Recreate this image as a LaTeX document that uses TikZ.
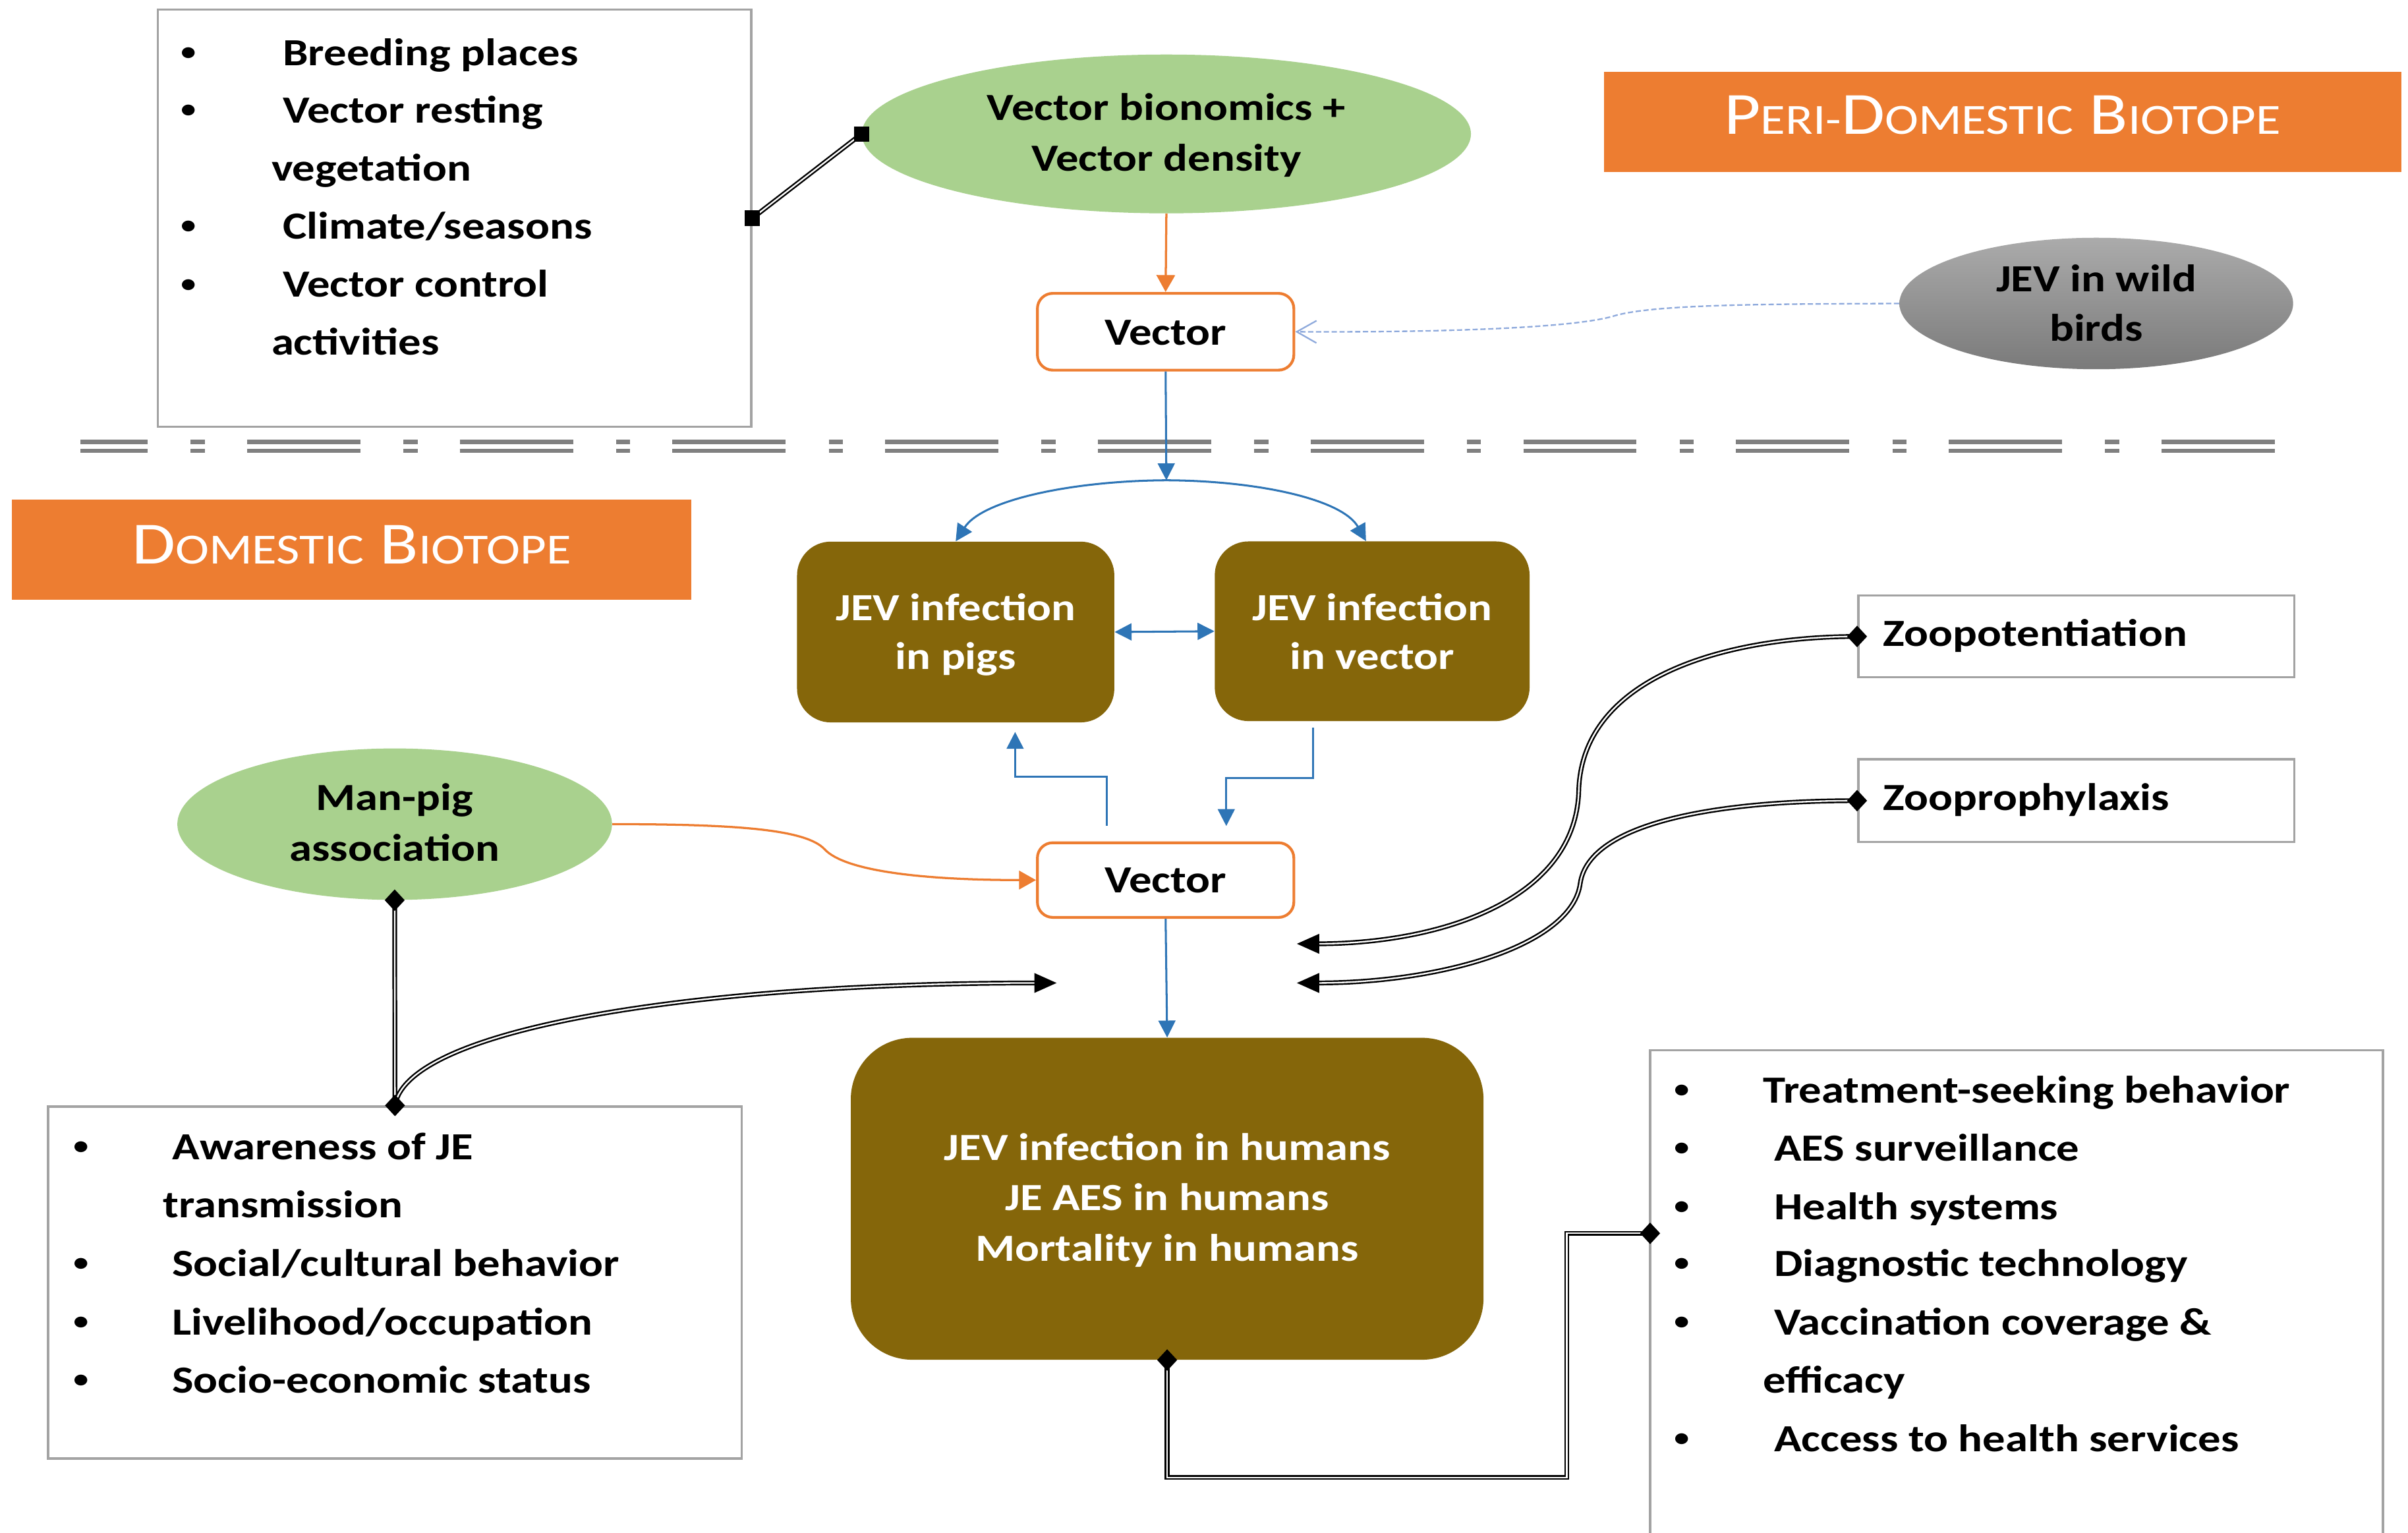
\documentclass[tikz,border=0pt]{standalone}
\usepackage{fontspec}
\setmainfont{Carlito}[FakeStretch=1.18]
\usetikzlibrary{shapes.geometric,arrows.meta,calc}
\definecolor{orng}{HTML}{ED7D31}
\definecolor{lgreen}{HTML}{A9D18E}
\definecolor{olive}{HTML}{85660A}
\definecolor{bblue}{HTML}{2E75B6}
\definecolor{boxgray}{HTML}{A3A3A3}
\definecolor{sepgray}{HTML}{808080}
\definecolor{dotblue}{HTML}{8FAADC}
\definecolor{birdtop}{HTML}{ABABAB}
\definecolor{birdbot}{HTML}{7A7A7A}
\newcommand\mysc[2]{{\fontsize{39}{39}\selectfont #1}{\fontsize{28}{28}\selectfont #2}}
\newcommand\dmd[1]{\fill (#1) ++(-6.5,0) -- ++(6.5,-7) -- ++(6.5,7) -- ++(-6.5,7) -- cycle;}
\newcommand\sqm[1]{\fill (#1) ++(-5,-5) rectangle ++(10,10);}
\newcommand\tipR[1]{\fill (#1) -- ++(-14.5,-6.5) -- ++(0,13) -- cycle;}
\newcommand\tipL[1]{\fill (#1) -- ++(14.5,-6.5) -- ++(0,13) -- cycle;}
\newcommand\bitem[5]{\node[bul] (#1b) at ($(#2,#4)+(0,-2.5)$) {\textbullet}; \node[li] (#1) at (#3,#4) {#5};}
\begin{document}
\begin{tikzpicture}[x=1pt,y=-1pt,
  txt/.style={font=\fontsize{25}{33}\selectfont\bfseries, inner sep=0pt, anchor=base},
  wtxt/.style={txt, text=white},
  li/.style={txt, anchor=base west},
  bul/.style={font=\fontsize{20}{33}\selectfont, inner sep=0pt, anchor=base},
  listbox/.style={draw=boxgray, line width=1.5pt, fill=white, inner sep=0pt},
  greenell/.style={ellipse, fill=lgreen, inner sep=0pt},
  banner/.style={fill=orng, inner sep=0pt},
  vecbox/.style={draw=orng, line width=1.8pt, fill=white, rounded corners=10pt, inner sep=0pt, minimum width=167pt},
  olivebox/.style={fill=olive, rounded corners=22pt, inner sep=0pt},
  birdell/.style={ellipse, top color=birdtop, bottom color=birdbot, inner sep=0pt, minimum width=256.4pt, minimum height=85.6pt},
  dbl/.style={draw=black, line width=1.05pt, double=white, double distance=1pt},
  barrow/.style={draw=bblue, line width=1.3pt, -{Triangle[length=11pt,width=11pt]}},
  barrow2/.style={draw=bblue, line width=1.3pt, {Triangle[length=11pt,width=11pt]}-{Triangle[length=11pt,width=11pt]}},
  oarrow/.style={draw=orng, line width=1.4pt, -{Triangle[length=11pt,width=12pt]}},
  birdline/.style={draw=dotblue, line width=1pt, dash pattern=on 3.4pt off 1.7pt, -{Straight Barb[length=12.8pt,width=14.5pt]}},
  sepline/.style={draw=sepgray, line width=2.8pt, dash pattern=on 73.8pt off 28pt on 9.2pt off 27.5pt, dash phase=30.1pt}
]
\useasboundingbox (0,0) rectangle (1568,998);
% separator
\coordinate (sepa1) at (52.5,287.8);
\coordinate (sepb1) at (1481.3,287.8);
\coordinate (sepa2) at (52.5,293.5);
\coordinate (sepb2) at (1481.3,293.5);
\draw[sepline] (sepa1) -- (sepb1);
\draw[sepline] (sepa2) -- (sepb2);

% shapes
\node[listbox, minimum width=386.4pt, minimum height=271.5pt] (tlbox) at (296,142) {};
\node[greenell, minimum width=396.6pt, minimum height=103.4pt] (bion) at (759.5,87.2) {};
\node[banner, minimum width=519.4pt, minimum height=65.4pt] (peri) at (1304,79.3) {};
\node[vecbox, minimum height=50pt] (vec1) at (759,216) {};
\node[birdell] (bird) at (1365,197.6) {};
\node[banner, minimum width=442.3pt, minimum height=65.2pt] (dom) at (229,357.9) {};
\node[olivebox, minimum width=206.6pt, minimum height=117.7pt] (pigs) at (622.3,411.5) {};
\node[olivebox, minimum width=205pt, minimum height=117pt] (vinf) at (893.5,411) {};
\node[listbox, minimum width=284pt, minimum height=53.2pt] (zpot) at (1352,414.4) {};
\node[listbox, minimum width=284pt, minimum height=54pt] (zpro) at (1352,521.3) {};
\node[greenell, minimum width=283pt, minimum height=98.6pt] (manpig) at (257,536.6) {};
\node[vecbox, minimum height=48.6pt] (vec2) at (759,573) {};
\node[olivebox, rounded corners=40pt, minimum width=412pt, minimum height=209.6pt] (human) at (760,780.5) {};
\node[listbox, minimum width=451.7pt, minimum height=229.2pt] (awbox) at (257.2,835.1) {};
\node[listbox, minimum width=477.2pt, minimum height=326.2pt] (hsbox) at (1313.1,847) {};

% texts
\node[txt] (bion1) at (759.5,78.2) {Vector bionomics +};
\node[txt] (bion2) at (759.5,111.5) {Vector density};
\node[txt, text=white, font=\fontsize{39}{39}\selectfont\mdseries] (peritxt) at (1304,87.2) {\mysc{P}{ERI-}\mysc{D}{OMESTIC} \mysc{B}{IOTOPE}};
\node[txt, text=white, font=\fontsize{39}{39}\selectfont\mdseries] (domtxt) at (229,366.9) {\mysc{D}{OMESTIC} \mysc{B}{IOTOPE}};
\node[txt] (vec1t) at (759,224.5) {Vector};
\node[txt] (bird1) at (1365,189.7) {JEV in wild};
\node[txt] (bird2) at (1365,222.2) {birds};
\node[wtxt] (pigs1) at (622.3,403.8) {JEV infection};
\node[wtxt] (pigs2) at (622.3,435.8) {in pigs};
\node[wtxt] (vinf1) at (893.5,403.8) {JEV infection};
\node[wtxt] (vinf2) at (893.5,435.8) {in vector};
\node[li] (zpott) at (1226,420.9) {Zoopotentiation};
\node[li] (zprot) at (1226,527.6) {Zooprophylaxis};
\node[txt] (mp1) at (257,527.8) {Man-pig};
\node[txt] (mp2) at (257,560.7) {association};
\node[txt] (vec2t) at (759,581.2) {Vector};
\node[wtxt] (hum1) at (760,755.5) {JEV infection in humans};
\node[wtxt] (hum2) at (760,788.2) {JE AES in humans};
\node[wtxt] (hum3) at (760,821) {Mortality in humans};

% top-left list
\bitem{tla}{123}{184}{42.5}{Breeding places}
\bitem{tlb}{123}{184}{80}{Vector resting}
\node[li] (tlc) at (176.6,118) {vegetation};
\bitem{tld}{123}{184}{155.5}{Climate/seasons}
\bitem{tle}{123}{184}{193.5}{Vector control}
\node[li] (tlf) at (176.6,231) {activities};

% bottom-left list
\bitem{bla}{52.7}{112}{755}{Awareness of JE}
\node[li] (blb) at (106,793) {transmission};
\bitem{blc}{52.7}{112}{831}{Social/cultural behavior}
\bitem{bld}{52.7}{112}{869}{Livelihood/occupation}
\bitem{ble}{52.7}{112}{907}{Socio-economic status}

% right list
\bitem{hsa}{1095}{1148}{718}{Treatment-seeking behavior}
\bitem{hsb}{1095}{1155}{756}{AES surveillance}
\bitem{hsc}{1095}{1155}{794}{Health systems}
\bitem{hsd}{1095}{1155}{831}{Diagnostic technology}
\bitem{hse}{1095}{1155}{869}{Vaccination coverage \&}
\node[li] (hsf) at (1148,907) {efficacy};
\bitem{hsg}{1095}{1155}{945}{Access to health services}

% connectors
\draw[dbl] (tlbox.east) -- (bion.west);
\sqm{tlbox.east}
\sqm{bion.west}

\draw[oarrow] (bion.south) -- (vec1.north);
\draw[birdline] (bird.west) .. controls (1150,198) and (1075,198) .. (1050,206) .. controls (1025,213) and (950,216.5) .. (vec1.east);

\coordinate (apex) at (759.5,312.7);
\draw[barrow] (vec1.south) -- (apex);
\draw[barrow] (apex) .. controls (700,313) and (640,325) .. (pigs.north);
\draw[barrow] (apex) .. controls (819,313) and (874,325) .. ($(vinf.north)+(-4,0)$);
\draw[barrow2] (pigs.east) -- (vinf.west);
\draw[barrow] ($(vec2.north)+(-38.5,-10)$) -- ++(0,-32) -| ($(pigs.south)+(38.7,6)$);
\draw[barrow] ($(vinf.south)+(-38.5,4)$) -- ++(0,33) -| ($(vec2.north)+(39.5,-10)$);
\draw[oarrow] (manpig.east) .. controls (480,536.6) and (525,540) .. (537,553) .. controls (550,567) and (600,573) .. (vec2.west);
\draw[barrow] (vec2.south) -- (human.north);

% double connectors
\coordinate (awtip) at (688,640);
\coordinate (awend) at (675,640);
\draw[dbl] (manpig.south) -- (awbox.north);
\draw[dbl] (awbox.north) .. controls (265,670) and (450,640) .. (awend);
\tipR{awtip}
\dmd{manpig.south}
\dmd{awbox.north}

\coordinate (zptip) at (844.5,614.5);
\coordinate (zpend) at (857.5,614.5);
\draw[dbl] (zpot.west) .. controls (1125,414.4) and (1030,440) .. (1028,515) .. controls (1026,585) and (940,614.5) .. (zpend);
\tipL{zptip}
\dmd{zpot.west}

\coordinate (zrtip) at (844.5,640);
\coordinate (zrend) at (857.5,640);
\draw[dbl] (zpro.west) .. controls (1120,521.3) and (1035,535) .. (1029,575) .. controls (1024,615) and (940,640) .. (zrend);
\tipL{zrtip}
\dmd{zpro.west}

\coordinate (hsin) at (1074.5,803);
\draw[dbl] (human.south) |- (1020.2,962) |- (hsin);
\dmd{human.south}
\dmd{hsin}
\end{tikzpicture}
\end{document}
